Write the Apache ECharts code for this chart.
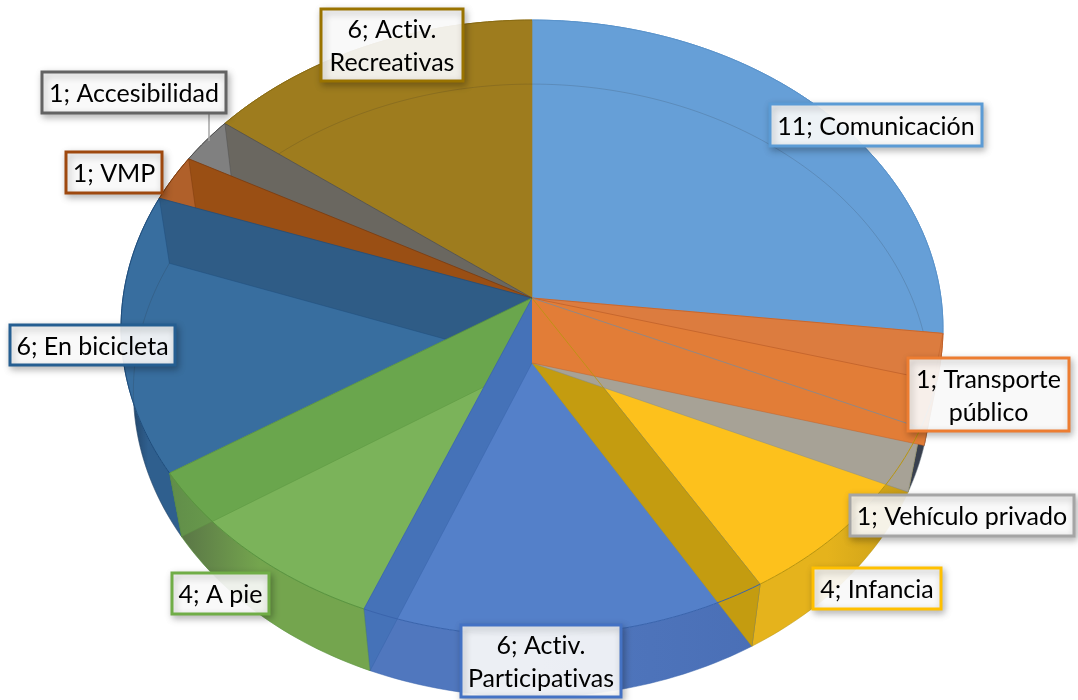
<!DOCTYPE html>
<html><head><meta charset="utf-8">
<style>html,body{margin:0;padding:0;background:#fff}#c{width:1078px;height:700px}</style>
<script src="https://cdn.jsdelivr.net/npm/echarts@6/dist/echarts.min.js"></script>
</head><body><div id="c"></div>
<script>
const categories = ['Comunicación','Transporte\npúblico','Vehículo privado','Infancia','Activ.\nParticipativas','A pie','En bicicleta','VMP','Accesibilidad','Activ.\nRecreativas'];
const values = [11,1,1,4,6,4,6,1,1,6];

const topColors   = ['#669FD7','#DC7C3F','#A5A196','#FDC11C','#5480C9','#7BB35A','#386E9F','#B0602A','#808080','#9E7C1E'];
const wallColors  = ['#669FD7','#E27D37','#A7A296','#C49C10','#4572B8','#6AA64D','#2F5C86','#9A4F14','#6A6760','#9E7C1E'];
const edgeColors  = ['#5A93CB','#C0612A','#7F8A93','#B8950F','#3A64AC','#5A9440','#1F4D7C','#7C3A0C','#4F4F4F','#8A6C14'];
const outerDark   = ['#4F86BC','#C96A28','#39404E','#C39A17','#4A6FB6','#566F45','#1B3553','#7C3A0C','#4F4F4F','#7A6010'];
const outerLight  = ['#4F86BC','#E07B32','#39404E','#E5B31C','#5077BE','#74A54E','#2F5F8E','#7C3A0C','#4F4F4F','#7A6010'];
const labelBorder = ['#5B9BD5','#ED7D31','#A5A5A5','#FFC000','#4472C4','#70AD47','#255E91','#9E480E','#636363','#997300'];
// label box: left, top, width, height
const labelBoxes  = [[770,104,212,42],[908,358,161,73],[850,495,224,41],[813,568,128,41],[461,625,160,72],[172,573,97,41],[10,325,165,40],[66,152,96,41],[42,72,184,41],[321,9,142,72]];
const leaderLine  = [[209,113],[209,141]];
// draw order of the radial walls, back to front
const wallOrder   = [8,7,6,5,4,3,2];
const veiledOuter = [5];

const total = values.reduce((a,b)=>a+b,0);
const startAngles = []; let acc = 0;
values.forEach(v=>{startAngles.push(acc/total*2*Math.PI); acc+=v;});
const endAngles = values.map((v,i)=>startAngles[i]+v/total*2*Math.PI);

const TOP = {x:532,y:298,A:409,B:305,k:0.0974};
const BOT = {x:532,y:363,A:397,B:304,k:0.09};
function rim(p,t){const d=1+p.k*Math.cos(t);return [p.x+p.A*Math.sin(t)/d,p.y-p.B*Math.cos(t)/d];}
function arc(p,a,b){const n=Math.max(2,Math.ceil((b-a)/0.02));const o=[];for(let i=0;i<=n;i++)o.push(rim(p,a+(b-a)*i/n));return o;}
function sliceData(){return values.map((v,i)=>[i,v]);}
function wallPts(t){return [[TOP.x,TOP.y],rim(TOP,t),rim(BOT,t),[BOT.x,BOT.y]];}

// no ligatures, as in the reference's text
const origFill = CanvasRenderingContext2D.prototype.fillText;
CanvasRenderingContext2D.prototype.fillText = function(){ this.textRendering='optimizeSpeed'; return origFill.apply(this,arguments); };

const base = {type:'custom',coordinateSystem:'none',silent:true,animation:false,tooltip:{show:false}};

function outerItem(opacity){ return function(params,api){
  const i=api.value(0),a=startAngles[i],b=endAngles[i];
  const pts=[...arc(BOT,a,b),...arc(TOP,a,b).reverse()];
  const rightSide = a<Math.PI;
  return {type:'polygon',shape:{points:pts},style:{opacity,
    fill:new echarts.graphic.LinearGradient(0,0,1,0,[
      {offset:0,color:rightSide?outerLight[i]:outerDark[i]},
      {offset:0.45,color:outerLight[i]},
      {offset:1,color:rightSide?outerDark[i]:outerLight[i]}]),
    stroke:edgeColors[i],lineWidth:0.5}};
};}
const layerOuter = Object.assign({},base,{name:'outer',z:2,data:sliceData(),renderItem:outerItem(1)});
const layerOuterVeil = Object.assign({},base,{name:'outerVeil',z:6,data:veiledOuter.map(i=>[i,values[i]]),renderItem:outerItem(0.45)});
const layerTop = Object.assign({},base,{name:'top',z:3,data:sliceData(),renderItem(params,api){
  const i=api.value(0);
  const pts=[[TOP.x,TOP.y],...arc(TOP,startAngles[i],endAngles[i])];
  return {type:'polygon',shape:{points:pts},style:{fill:topColors[i],stroke:topColors[i],lineWidth:0.6}};
}});
const layerArc = Object.assign({},base,{name:'bottomRim',z:4,data:sliceData(),renderItem(params,api){
  const i=api.value(0);
  const a=startAngles[i],b=endAngles[i];
  if(Math.cos((a+b)/2)<-0.2) return null;
  return {type:'polyline',shape:{points:arc(BOT,a,b)},style:{fill:'none',stroke:'rgba(40,40,40,0.16)',lineWidth:1}};
}});
const layerWalls = Object.assign({},base,{name:'walls',z:5,
  data:wallOrder.map(i=>[i,values[i],0]).concat([[1,values[1],1],[1,values[1],0]]),
  renderItem(params,api){
    const i=api.value(0);
    const isStart=api.value(2)===1;
    const t=isStart?startAngles[i]:endAngles[i];
    return {type:'group',children:[
      {type:'polygon',shape:{points:wallPts(t)},style:{fill:isStart?topColors[i]:wallColors[i],stroke:'none'}},
      {type:'polyline',shape:{points:[[BOT.x,BOT.y],rim(BOT,t),rim(TOP,t)]},style:{fill:'none',stroke:edgeColors[i],lineWidth:0.7,opacity:0.7}}
    ]};
  }});
const layerRadial = Object.assign({},base,{name:'radial',z:7,data:sliceData().filter(d=>d[0]!==9),renderItem(params,api){
  const i=api.value(0),t=endAngles[i];
  return {type:'polyline',shape:{points:[[TOP.x,TOP.y],rim(TOP,t)]},style:{fill:'none',stroke:i===0?edgeColors[1]:edgeColors[i],lineWidth:1,opacity:0.8}};
}});
const layerFrontRim = Object.assign({},base,{name:'topRim',z:7,data:sliceData(),renderItem(params,api){
  const i=api.value(0);
  return {type:'polyline',shape:{points:arc(TOP,startAngles[i],endAngles[i])},style:{fill:'none',stroke:edgeColors[i],lineWidth:1}};
}});
const layerLabels = Object.assign({},base,{name:'labels',z:10,data:sliceData(),renderItem(params,api){
  const i=api.value(0),b=labelBoxes[i];
  return {type:'group',children:[
    {type:'rect',shape:{x:b[0],y:b[1],width:b[2],height:b[3]},style:{fill:'rgba(255,255,255,0.9)',stroke:labelBorder[i],lineWidth:3,
      shadowBlur:7,shadowOffsetX:2,shadowOffsetY:3,shadowColor:'rgba(0,0,0,0.28)'}},
    {type:'text',style:{text:api.value(1)+'; '+categories[i],x:b[0]+b[2]/2,y:b[1]+b[3]/2+1.5,align:'center',verticalAlign:'middle',
      font:'25px Lato',lineHeight:33,fill:'#000'}}
  ]};
}});
const layerLeader = Object.assign({},base,{name:'leader',z:9,data:[[0]],renderItem(){
  return {type:'polyline',shape:{points:leaderLine},style:{fill:'none',stroke:'#A6A6A6',lineWidth:1.5}};
}});

const chart = echarts.init(document.getElementById('c'),null,{renderer:'canvas'});
chart.setOption({animation:false,backgroundColor:'#fff',
  series:[layerOuter,layerTop,layerArc,layerWalls,layerOuterVeil,layerRadial,layerFrontRim,layerLeader,layerLabels]});
</script></body></html>
